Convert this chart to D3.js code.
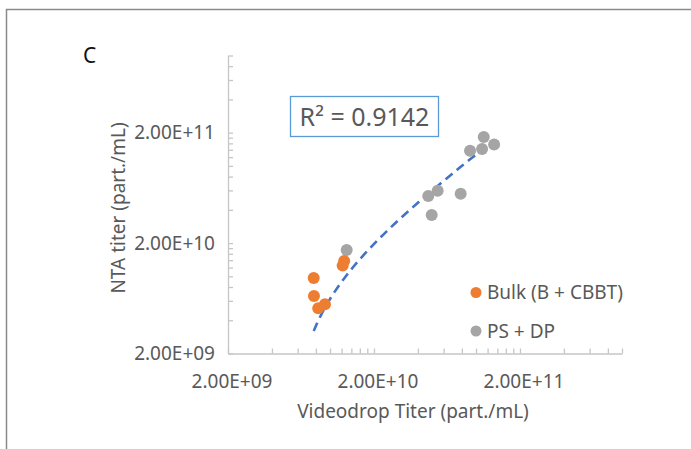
<!DOCTYPE html>
<html>
<head>
<meta charset="utf-8">
<script src="https://cdn.jsdelivr.net/npm/d3@7"></script>
<style>
  body { margin: 0; background: #fff; }
  text { font-family: "Noto Sans", "Open Sans", sans-serif; }
</style>
</head>
<body>
<div id="chart"></div>
<script>
// titers (part./mL)
const bulkX = [7.73e9, 7.76e9, 8.3e9, 9.23e9, 1.25e10, 1.22e10]
const bulkY = [9.66e9, 6.64e9, 5.13e9, 5.58e9, 1.38e10, 1.25e10]
const psdpX = [1.3e10, 4.71e10, 5.46e10, 4.97e10, 7.85e10, 9.1e10, 1.13e11, 1.10e11, 1.33e11]
const psdpY = [1.73e10, 5.35e10, 5.97e10, 3.59e10, 5.6e10, 1.37e11, 1.83e11, 1.42e11, 1.56e11]

const seriesNames = ['Bulk (B + CBBT)', 'PS + DP']
const majorTicks = [2e9, 2e10, 2e11]
const tickLabels = ['2.00E+09', '2.00E+10', '2.00E+11']
const axisDomain = [2e9, 1e12]
const rSquaredLabel = 'R² = 0.9142'
const panelLabel = 'C'
const xTitle = 'Videodrop Titer (part./mL)'
const yTitle = 'NTA titer (part./mL)'

const W = 691, H = 449
const margin = { top: 55.5, left: 228 }
const width = 394
const height = 298

const svg = d3.select('#chart')
  .append('svg')
  .attr('width', W)
  .attr('height', H)

// outer frame of the figure
svg.append('rect')
  .attr('x', 6.5).attr('y', 9.5)
  .attr('width', 720).attr('height', 480)
  .attr('fill', 'none')
  .attr('stroke', '#8a8a8a')
  .attr('stroke-width', 1.5)

svg.append('text')
  .attr('x', 83).attr('y', 63)
  .style('font-size', '21px')
  .style('fill', '#111')
  .text(panelLabel)

const g = svg.append('g')
  .attr('transform', 'translate(' + margin.left + ',' + margin.top + ')')

const x = d3.scaleLog().domain(axisDomain).range([0, width])
const y = d3.scaleLog().domain(axisDomain).range([height, 0])

// excel style minor ticks: major * 2..9, then the axis end
const allTicks = []
majorTicks.forEach(t => {
  allTicks.push(t)
  for (let m = 2; m <= 9; m++) if (t * m <= axisDomain[1]) allTicks.push(t * m)
})
const fmt = v => {
  const i = majorTicks.indexOf(v)
  return i >= 0 ? tickLabels[i] : ''
}

const xAxis = g.append('g')
  .attr('transform', 'translate(0,' + height + ')')
  .call(d3.axisBottom(x).tickValues(allTicks).tickFormat(fmt)
    .tickSizeInner(-5).tickSizeOuter(0).tickPadding(21))
const yAxis = g.append('g')
  .call(d3.axisLeft(y).tickValues(allTicks).tickFormat(fmt)
    .tickSizeInner(-5).tickSizeOuter(0).tickPadding(13))

;[xAxis, yAxis].forEach(a => {
  a.select('.domain').attr('stroke', '#c6c6c6').attr('stroke-width', 1.3)
  a.selectAll('.tick line').attr('stroke', '#c6c6c6').attr('stroke-width', 1.3)
  a.selectAll('.tick text')
    .style('font-size', '19px')
    .style('font-family', '"Noto Sans", sans-serif')
    .attr('fill', '#595959')
})
xAxis.selectAll('.tick text').attr('x', 3.5)

svg.append('text')
  .attr('x', 413)
  .attr('y', 418)
  .attr('text-anchor', 'middle')
  .style('font-size', '19px')
  .style('fill', '#595959')
  .text(xTitle)

svg.append('text')
  .attr('transform', 'translate(125,' + 208 + ') rotate(-90)')
  .attr('text-anchor', 'middle')
  .style('font-size', '19px')
  .style('fill', '#595959')
  .text(yTitle)

// linear trendline over all points (plotted on the log axes, so it bends)
const allX = bulkX.concat(psdpX)
const allY = bulkY.concat(psdpY)
const mx = d3.mean(allX), my = d3.mean(allY)
const slope = d3.sum(allX, (v, i) => (v - mx) * (allY[i] - my)) / d3.sum(allX, v => (v - mx) * (v - mx))
const intercept = my - slope * mx
const [x0, x1] = d3.extent(allX)
const fitX = d3.range(0, 61).map(i => x0 * Math.pow(x1 / x0, i / 60))

g.append('path')
  .datum(fitX)
  .attr('fill', 'none')
  .attr('stroke', '#4472c4')
  .attr('stroke-width', 2.6)
  .attr('stroke-dasharray', '9,5.5')
  .attr('d', d3.line().x(d => x(d)).y(d => y(slope * d + intercept)))

const series = [
  { name: seriesNames[0], xs: bulkX, ys: bulkY, color: '#ed7d31' },
  { name: seriesNames[1], xs: psdpX, ys: psdpY, color: '#a5a5a5' }
]

// grey drawn first so the orange sits on top
;[series[1], series[0]].forEach(s => {
  g.append('g').selectAll('circle')
    .data(s.xs.map((v, i) => [v, s.ys[i]]))
    .enter()
    .append('circle')
    .attr('cx', d => x(d[0]))
    .attr('cy', d => y(d[1]))
    .attr('r', 6)
    .style('fill', s.color)
})

// R² box
const rBox = svg.append('g').attr('transform', 'translate(290.5,96.5)')
rBox.append('rect')
  .attr('width', 148).attr('height', 40)
  .attr('fill', '#fff')
  .attr('stroke', '#5b9bd5')
  .attr('stroke-width', 1.3)
rBox.append('text')
  .attr('x', 74).attr('y', 29.5)
  .attr('text-anchor', 'middle')
  .style('font-size', '25px')
  .style('fill', '#595959')
  .text(rSquaredLabel)

// legend
const legend = svg.append('g')
  .selectAll('g')
  .data(series)
  .enter().append('g')
  .attr('transform', (d, i) => 'translate(476,' + (292.5 + i * 38.5) + ')')
legend.append('circle').attr('r', 5.5).style('fill', d => d.color)
legend.append('text')
  .attr('x', 11).attr('dy', '0.35em')
  .style('font-size', '19px')
  .style('fill', '#595959')
  .text(d => d.name)
</script>
</body>
</html>
